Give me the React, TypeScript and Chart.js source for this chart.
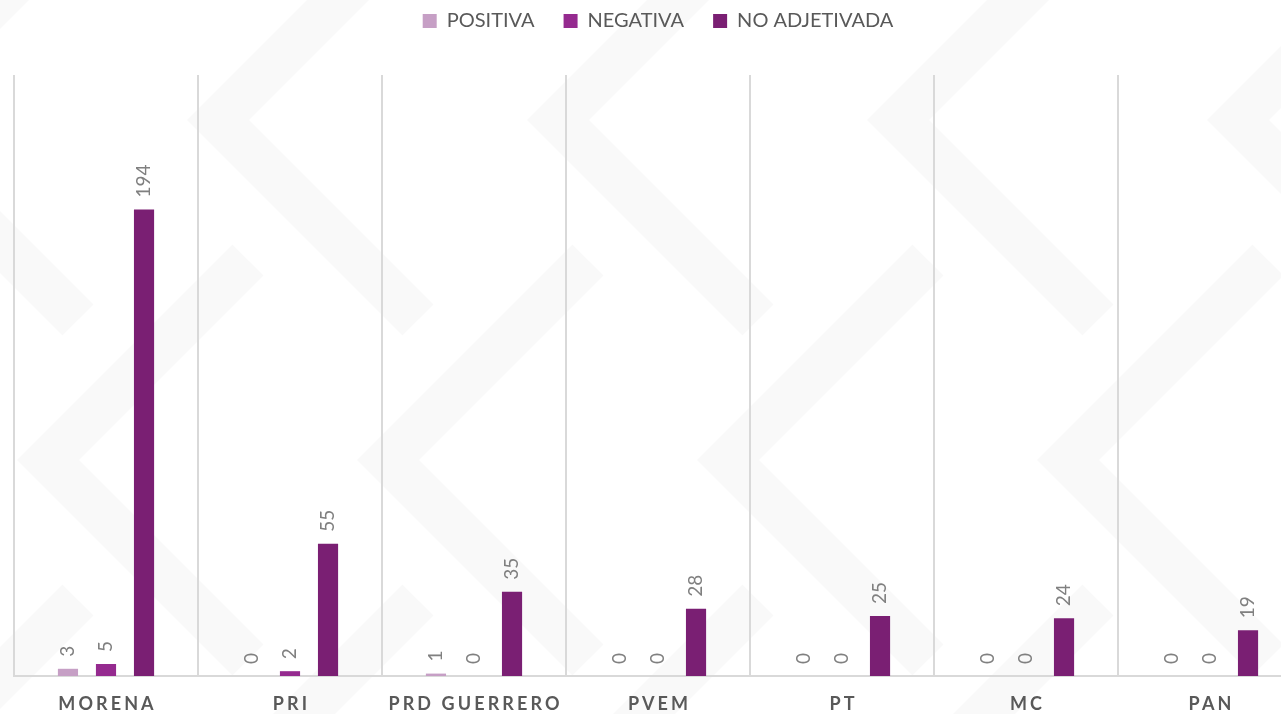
import React, { useEffect, useRef } from "react";
import { Chart, registerables } from "chart.js";

Chart.register(...registerables);

const categories = ["MORENA", "PRI", "PRD GUERRERO", "PVEM", "PT", "MC", "PAN"];
const positiva = [3, 0, 1, 0, 0, 0, 0];
const negativa = [5, 2, 0, 0, 0, 0, 0];
const noAdjetivada = [194, 55, 35, 28, 25, 24, 19];
const seriesNames = ["POSITIVA", "NEGATIVA", "NO ADJETIVADA"];
const seriesColors = ["#c69fc5", "#952a8f", "#7a1f73"];

const FONT = "Lato, 'Open Sans', sans-serif";

const backgroundPlugin = {
  id: "bgPattern",
  beforeDraw(chart: any) {
    const { ctx, width, height } = chart;
    ctx.save();
    ctx.fillStyle = "#ffffff";
    ctx.fillRect(0, 0, width, height);
    ctx.strokeStyle = "rgba(0,0,0,0.022)";
    ctx.lineWidth = 44;
    ctx.lineCap = "butt";
    ctx.lineJoin = "miter";
    const step = 340;
    for (let gy = -1; gy < 4; gy++) {
      for (let gx = -1; gx < 5; gx++) {
        const vx = gx * step + 60 + (gy % 2 ? step / 2 : 0);
        const vy = gy * step + 460;
        ctx.beginPath();
        ctx.moveTo(vx + 200, vy - 200);
        ctx.lineTo(vx, vy);
        ctx.lineTo(vx + 200, vy + 200);
        ctx.stroke();
      }
    }
    ctx.restore();
  },
};

const valueLabelPlugin = {
  id: "valueLabels",
  afterDatasetsDraw(chart: any) {
    const { ctx } = chart;
    ctx.save();
    ctx.font = `19px ${FONT}`;
    ctx.fillStyle = "#808080";
    ctx.textAlign = "left";
    ctx.textBaseline = "middle";
    chart.data.datasets.forEach((ds: any, di: number) => {
      const meta = chart.getDatasetMeta(di);
      meta.data.forEach((el: any, i: number) => {
        const v = ds.data[i];
        ctx.save();
        ctx.translate(el.x, el.y - 12);
        ctx.rotate(-Math.PI / 2);
        ctx.fillText(String(v), 0, 0);
        ctx.restore();
      });
    });
    ctx.restore();
  },
};

const categoryLabelPlugin = {
  id: "categoryLabels",
  afterDraw(chart: any) {
    const { ctx } = chart;
    const xScale = chart.scales.x;
    ctx.save();
    ctx.font = `bold 18px ${FONT}`;
    (ctx as any).letterSpacing = "3.1px";
    ctx.fillStyle = "#595959";
    ctx.textAlign = "center";
    ctx.textBaseline = "middle";
    categories.forEach((c, i) => {
      const x = xScale.getPixelForValue(i);
      ctx.fillText(c, x + 1.5, chart.chartArea.bottom + 28);
    });
    ctx.restore();
  },
};

export default function App() {
  const ref = useRef<HTMLCanvasElement>(null);

  useEffect(() => {
    document.body.style.margin = "0";
    document.body.style.overflow = "hidden";
    const canvas = ref.current!;
    const chart = new Chart(canvas, {
      type: "bar",
      data: {
        labels: categories,
        datasets: [positiva, negativa, noAdjetivada].map((d, i) => ({
          label: seriesNames[i],
          data: d,
          backgroundColor: seriesColors[i],
          borderWidth: 0,
          categoryPercentage: 0.62,
          barPercentage: 0.53,
        })),
      },
      options: {
        responsive: false,
        animation: false,
        devicePixelRatio: 1,
        layout: { padding: { left: 26, right: 1, top: -18, bottom: 38 } },
        plugins: {
          legend: {
            position: "top",
            weight: 3000,
            labels: {
              boxWidth: 14,
              boxHeight: 14,
              padding: 29,
              color: "#595959",
              font: { family: FONT, size: 20 },
            },
          },
          title: {
            display: true,
            text: " ",
            font: { size: 1, lineHeight: 1 },
            padding: { top: 0, bottom: 33 },
          },
          tooltip: { enabled: false },
        } as any,
        scales: {
          x: {
            offset: true,
            grid: {
              offset: true,
              display: true,
              color: "#d9d9d9",
              lineWidth: 2,
              drawTicks: false,
            },
            border: { display: true, color: "#d9d9d9", width: 2 },
            ticks: { display: false },
          },
          y: {
            display: false,
            min: 0,
            max: 250,
          },
        },
      },
      plugins: [backgroundPlugin, valueLabelPlugin, categoryLabelPlugin],
    });
    return () => chart.destroy();
  }, []);

  return (
    <div
      style={{
        position: "fixed",
        left: -12,
        top: 0,
        width: 1293,
        height: 714,
        overflow: "hidden",
        background: "#fff",
      }}
    >
      <canvas ref={ref} width={1315} height={714} style={{ width: 1315, height: 714 }} />
    </div>
  );
}
